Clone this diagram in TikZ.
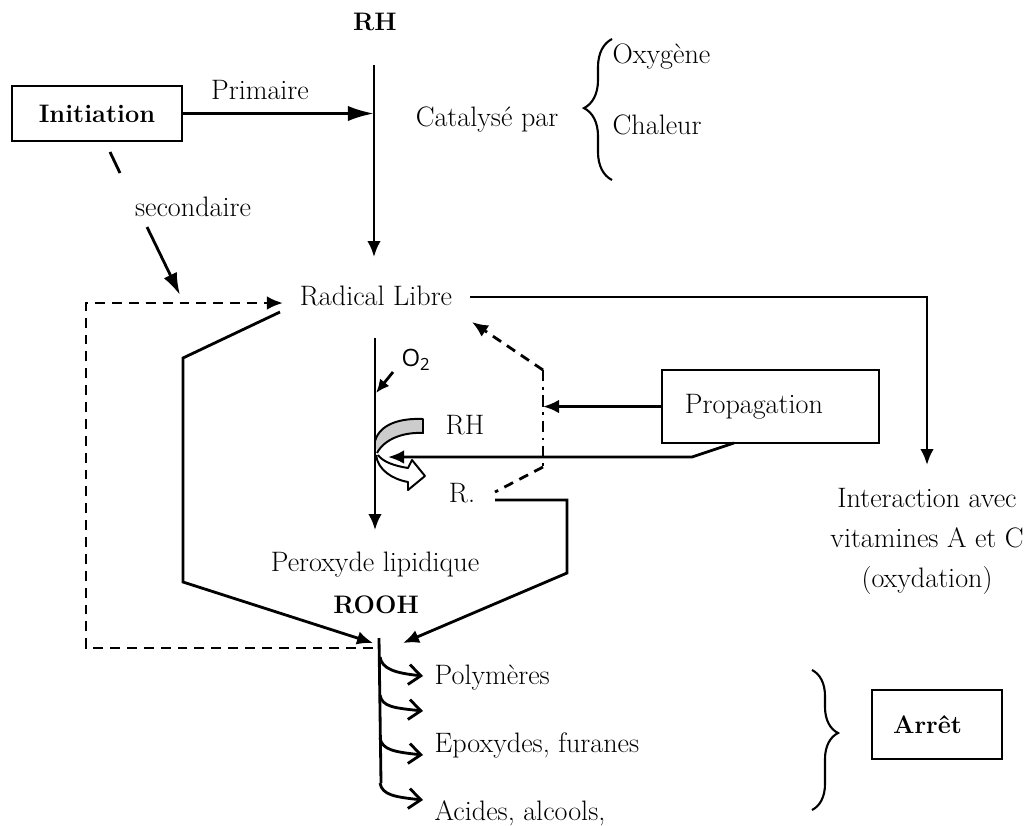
\documentclass[tikz,border=0pt]{standalone}
\usepackage{fontspec}
\newfontfamily\osans{Open Sans}
\usetikzlibrary{positioning,arrows.meta,decorations.pathreplacing}
\tikzset{
  arr/.style={-{Latex[length=4mm,width=3.4mm]},line width=2pt},
  longarr/.style={-{Latex[length=6.5mm,width=3.8mm]},line width=2pt},
  barb/.style={-{Straight Barb[length=3mm,width=5mm]},line width=2pt},
  dsh/.style={line width=2pt,dash pattern=on 7pt off 5pt},
  dshdot/.style={line width=2pt,dash pattern=on 8pt off 4pt on 2pt off 4pt},
  lbl/.style={font=\fontsize{20}{24}\selectfont,inner sep=1pt},
  blbl/.style={font=\fontsize{18}{21}\selectfont\bfseries,inner sep=1pt},
  stagebox/.style={draw,line width=2pt},
  brc/.style={decorate,decoration={brace,amplitude=#1},line width=1.5pt},
  band/.style={draw,line width=1.4pt,line join=round},
}

\begin{document}
\begin{tikzpicture}[x=0.025cm,y=-0.025cm]
  \useasboundingbox (0,0) rectangle (1032,825);
  % ---- initiation ----
  \node[blbl] (rh) at (375,22) {RH};
  \node[blbl,stagebox,minimum width=4.25cm,minimum height=1.375cm] (init) at (97,113.5) {Initiation};
  \node[lbl] (prim) at (260,90) {Primaire};
  \node[lbl] (cat) at (487,120) {Catalysé par};
  \node[lbl,anchor=west] (oxy) at (611,57) {Oxygène};
  \node[lbl,anchor=west] (chal) at (611,125) {Chaleur};
  \node[lbl] (sec) at (193,207) {secondaire};
  \coordinate (rhtop) at (374,65);
  \coordinate (rhin) at (374,257);
  \coordinate (primend) at (374,113.5);
  \draw[arr] (rhtop) -- (rhin);
  \draw[longarr] (init.east) -- (primend);
  \draw[brc=0.7cm,decoration={aspect=0.51}] (612,180) -- (612,39);
  \coordinate (s1) at (110,152);
  \coordinate (s2) at (120,173);
  \coordinate (s3) at (147,227);
  \coordinate (s4) at (180,295);
  \draw[line width=2pt] (s1) -- (s2);
  \draw[-{Latex[length=5.5mm,width=3.6mm]},line width=2pt] (s3) -- (s4);
  % ---- radical libre ----
  \node[lbl] (rl) at (376,296) {Radical Libre};
  \coordinate (dl1) at (373,648);
  \coordinate (dl2) at (86,648);
  \coordinate (dl3) at (86,303);
  \coordinate (dl4) at (283,303);
  \draw[dsh,-{Latex[length=4mm,width=3.4mm]}] (dl1) -- (dl2) -- (dl3) -- (dl4);
  \coordinate (l1) at (280,312);
  \coordinate (l2) at (183,358);
  \coordinate (l3) at (183,582);
  \coordinate (l4) at (373,643);
  \draw[arr] (l1) -- (l2) -- (l3) -- (l4);
  \coordinate (r1) at (470,297);
  \coordinate (r2) at (927,297);
  \coordinate (r3) at (927,465);
  \draw[arr] (r1) -- (r2) -- (r3);
  \node[lbl,align=center,font=\fontsize{20}{28.5}\selectfont] (inter) at (927,541)
    {Interaction avec\\vitamines A et C\\(oxydation)};
  % ---- propagation ----
  \node[font=\osans\fontsize{17}{20}\selectfont,inner sep=1pt] (otwo) at (416,360) {O\textsubscript{2}};
  \node[lbl] (rhb) at (465,425) {RH};
  \node[lbl] (rdot) at (462,493) {R.};
  \node[lbl,stagebox,text width=4.275cm,inner xsep=0.575cm,minimum height=1.825cm,align=left]
    (prop) at (770.5,406.5) {Propagation};
  \fill[gray!40] (375,441) .. controls (380,424) and (400,418) .. (423,419) -- (423,433)
    .. controls (405,432) and (385,438) .. (377,453) -- cycle;
  \draw[band] (375,441) .. controls (380,424) and (400,418) .. (423,419) -- (423,433)
    .. controls (405,432) and (385,438) .. (377,453);
  \draw[band,fill=white] (376,455) .. controls (378,470) and (392,479) .. (408,482) -- (408,490)
    -- (425,476) -- (412,460) -- (408,468) .. controls (395,466) and (383,462) .. (378,455);
  \coordinate (m1) at (375,338);
  \coordinate (m2) at (375,530);
  \draw[arr] (m1) -- (m2);
  \coordinate (o1) at (393,372);
  \coordinate (o2) at (376,393);
  \draw[-{Latex[length=3.4mm,width=3mm]},line width=2pt] (o1) -- (o2);
  \coordinate (ddtop) at (543,370);
  \coordinate (ddbot) at (543,467);
  \coordinate (rdash) at (495,492);
  \coordinate (rlback) at (472,322);
  \draw[arr] (prop.west) -- (prop.west -| ddtop);
  \draw[dshdot] (ddtop) -- (ddbot);
  \draw[dsh] (ddbot) -- (rdash);
  \draw[dsh,-{Latex[length=4mm,width=3.4mm]}] (ddtop) -- (rlback);
  \coordinate (pb) at (734,443);
  \coordinate (pk) at (692,457);
  \coordinate (pt) at (388,457);
  \draw[arr] (pb) -- (pk) -- (pt);
  \coordinate (rr1) at (495,500);
  \coordinate (rr2) at (567,500);
  \coordinate (rr3) at (567,573);
  \coordinate (rr4) at (403,643);
  \draw[arr] (rr1) -- (rr2) -- (rr3) -- (rr4);
  % ---- ROOH and arret ----
  \node[lbl] (perox) at (375,565) {Peroxyde lipidique};
  \node[blbl] (rooh) at (376,605) {ROOH};
  \coordinate (v1) at (379,638);
  \coordinate (v2) at (381,783);
  \draw[line width=2pt] (v1) -- (v2);
  \foreach \ya/\yb in {657/676, 695/711, 738/755, 783/800}{
    \draw[barb] (380,\ya) .. controls (382,\ya+12) and (395,\yb-3) .. (423,\yb);
  }
  \node[lbl,anchor=west] (poly) at (433,678) {Polymères};
  \node[lbl,anchor=west] (epox) at (433,745) {Epoxydes, furanes};
  \node[lbl,anchor=west] (acid) at (433,813) {Acides, alcools,};
  \draw[brc=0.65cm,decoration={aspect=0.45}] (812,670) -- (812,810);
  \node[blbl,stagebox,text width=2.2cm,inner xsep=0.525cm,minimum height=1.725cm,align=left]
    (arret) at (937,724.5) {Arrêt};
\end{tikzpicture}
\end{document}
